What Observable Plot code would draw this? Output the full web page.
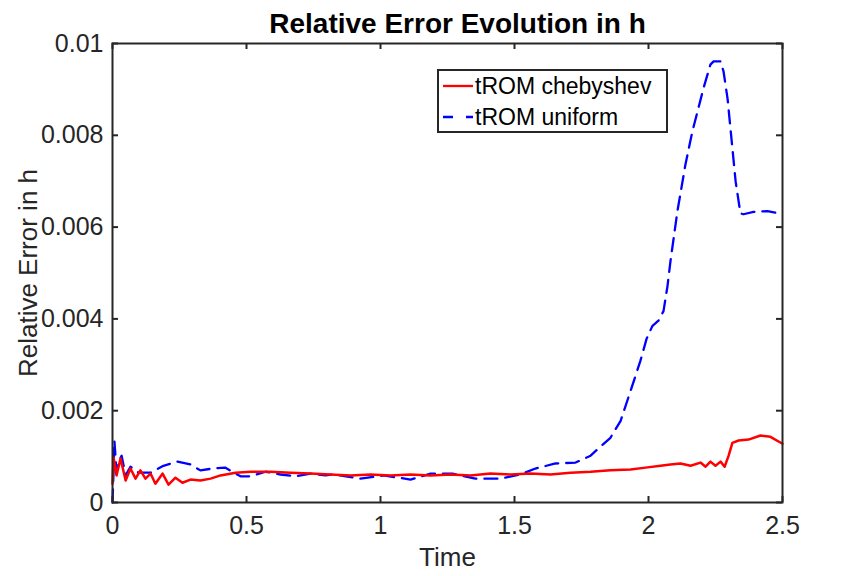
<!DOCTYPE html>
<html>
<head>
<meta charset="utf-8">
<script src="https://cdn.jsdelivr.net/npm/d3@7"></script>
<script src="https://cdn.jsdelivr.net/npm/@observablehq/plot@0.6"></script>
<style>
  html, body { margin: 0; padding: 0; background: #fff; }
  svg { font-family: "Liberation Sans", Arial, Helvetica, sans-serif; }
</style>
</head>
<body>
<div id="chart"></div>
<script>
// ---- data ----
const titleText = "Relative Error Evolution in h";
const xLabel = "Time";
const yLabel = "Relative Error in h";
const seriesNames = ["tROM chebyshev", "tROM uniform"];

const xTicks = [0, 0.5, 1, 1.5, 2, 2.5];
const xTickLabels = ["0", "0.5", "1", "1.5", "2", "2.5"];
const yTicks = [0, 0.002, 0.004, 0.006, 0.008, 0.01];
const yTickLabels = ["0", "0.002", "0.004", "0.006", "0.008", "0.01"];

const chebT = [0, 0.004, 0.015, 0.03, 0.049, 0.067, 0.086, 0.104, 0.123, 0.142, 0.16, 0.187, 0.209, 0.235, 0.261, 0.291, 0.328, 0.366, 0.403, 0.459, 0.515, 0.59, 0.664, 0.739, 0.813, 0.888, 0.963, 1.037, 1.112, 1.187, 1.261, 1.336, 1.41, 1.485, 1.56, 1.634, 1.709, 1.784, 1.858, 1.933, 1.989, 2.045, 2.082, 2.119, 2.157, 2.194, 2.213, 2.231, 2.25, 2.269, 2.284, 2.299, 2.313, 2.336, 2.373, 2.418, 2.455, 2.5];
const chebE = [0.00041, 0.00098, 0.00059, 0.00096, 0.00048, 0.00074, 0.00052, 0.0007, 0.00052, 0.00063, 0.00041, 0.00063, 0.00039, 0.00054, 0.00043, 0.0005, 0.00048, 0.00052, 0.00059, 0.00065, 0.00067, 0.00067, 0.00065, 0.00063, 0.00061, 0.00059, 0.00061, 0.00059, 0.00061, 0.00059, 0.00061, 0.00059, 0.00063, 0.00061, 0.00063, 0.00061, 0.00065, 0.00067, 0.0007, 0.00072, 0.00076, 0.0008, 0.00083, 0.00085, 0.0008, 0.00087, 0.00078, 0.00089, 0.0008, 0.00089, 0.00078, 0.00102, 0.0013, 0.00135, 0.00137, 0.00146, 0.00143, 0.00128];

const unifT = [0, 0.004, 0.007, 0.015, 0.022, 0.034, 0.049, 0.067, 0.097, 0.142, 0.19, 0.243, 0.291, 0.328, 0.373, 0.42, 0.478, 0.515, 0.571, 0.627, 0.683, 0.739, 0.795, 0.825, 0.925, 1.011, 1.112, 1.187, 1.269, 1.354, 1.448, 1.522, 1.578, 1.653, 1.728, 1.784, 1.821, 1.858, 1.896, 1.933, 1.97, 1.993, 2.015, 2.037, 2.056, 2.071, 2.082, 2.108, 2.138, 2.164, 2.183, 2.205, 2.231, 2.243, 2.269, 2.28, 2.295, 2.313, 2.325, 2.343, 2.354, 2.392, 2.444, 2.5];
const unifE = [0, 0.0007, 0.00135, 0.0007, 0.00087, 0.00102, 0.00059, 0.00078, 0.00065, 0.00065, 0.0008, 0.00089, 0.00083, 0.0007, 0.00074, 0.00076, 0.00057, 0.00057, 0.00067, 0.00061, 0.00057, 0.00063, 0.00059, 0.00061, 0.00052, 0.00059, 0.0005, 0.00063, 0.00063, 0.00052, 0.00052, 0.00061, 0.00074, 0.00085, 0.00087, 0.00102, 0.00122, 0.00141, 0.00178, 0.00243, 0.00309, 0.00357, 0.00385, 0.00396, 0.00417, 0.00472, 0.00526, 0.00635, 0.00737, 0.00809, 0.00852, 0.00902, 0.00954, 0.00961, 0.00961, 0.00939, 0.0088, 0.00772, 0.007, 0.0063, 0.00628, 0.00633, 0.00635, 0.00628];

const cheb = chebT.map((t, i) => ({t, e: chebE[i]}));
const unif = unifT.map((t, i) => ({t, e: unifE[i]}));

// ---- layout ----
const W = 864, H = 576;
const mL = 112, mR = 82, mT = 43, mB = 74;
const innerH = H - mT - mB;
const innerW = W - mL - mR;
const ink = "#262626";
const tickLen = 6;

const chart = Plot.plot({
  width: W,
  height: H,
  marginLeft: mL,
  marginRight: mR,
  marginTop: mT,
  marginBottom: mB,
  style: {background: "white", color: ink, fontFamily: '"Liberation Sans", Arial, Helvetica, sans-serif'},
  x: {domain: [0, 2.5]},
  y: {domain: [0, 0.01]},
  marks: [
    Plot.line(unif, {x: "t", y: "e", stroke: "#0000ff", strokeWidth: 2.3, strokeDasharray: "13,8"}),
    Plot.line(cheb, {x: "t", y: "e", stroke: "#ff0000", strokeWidth: 2.5}),
    Plot.frame({stroke: ink, strokeWidth: 2}),
    // inward ticks on all four sides
    Plot.tickX(xTicks, {x: d => d, insetTop: innerH - tickLen, stroke: ink, strokeWidth: 2}),
    Plot.tickX(xTicks, {x: d => d, insetBottom: innerH - tickLen, stroke: ink, strokeWidth: 2}),
    Plot.tickY(yTicks, {y: d => d, insetRight: innerW - tickLen, stroke: ink, strokeWidth: 2}),
    Plot.tickY(yTicks, {y: d => d, insetLeft: innerW - tickLen, stroke: ink, strokeWidth: 2}),
    Plot.axisX(xTicks, {tickSize: 0, tickPadding: 14, fontSize: 25, label: null,
      tickFormat: d => xTickLabels[xTicks.indexOf(d)]}),
    Plot.axisY(yTicks, {tickSize: 0, tickPadding: 9, fontSize: 25, label: null,
      tickFormat: d => yTickLabels[yTicks.indexOf(d)]}),
    Plot.text([titleText], {frameAnchor: "top", dy: -30, dx: 10, fontSize: 28, fontWeight: "bold", fill: "#000"}),
    Plot.text([xLabel], {frameAnchor: "bottom", lineAnchor: "middle", dy: 55, fontSize: 26, fill: ink}),
    Plot.text([yLabel], {frameAnchor: "left", dx: -84, rotate: -90, textAnchor: "middle", fontSize: 26, fill: ink})
  ]
});

// ---- legend (MATLAB style box, inside the axes) ----
const svg = d3.select(chart);
const lg = svg.append("g").attr("text-anchor", "start");
const lx = 438, ly = 70, lw = 229, lh = 62;
lg.append("rect").attr("x", lx).attr("y", ly).attr("width", lw).attr("height", lh)
  .attr("fill", "white").attr("stroke", ink).attr("stroke-width", 2);
const rows = [
  {name: seriesNames[0], color: "#ff0000", dash: null, y: ly + 16},
  {name: seriesNames[1], color: "#0000ff", dash: "10,13", y: ly + 47}
];
rows.forEach(r => {
  const ln = lg.append("line").attr("x1", lx + 5).attr("x2", lx + 35)
    .attr("y1", r.y).attr("y2", r.y).attr("stroke", r.color).attr("stroke-width", 2.3);
  if (r.dash) ln.attr("stroke-dasharray", r.dash);
  lg.append("text").attr("x", lx + 37).attr("y", r.y).attr("dy", "0.35em")
    .attr("text-anchor", "start").attr("font-size", 23).attr("fill", "#000").text(r.name);
});

document.getElementById("chart").appendChild(chart);
</script>
</body>
</html>
